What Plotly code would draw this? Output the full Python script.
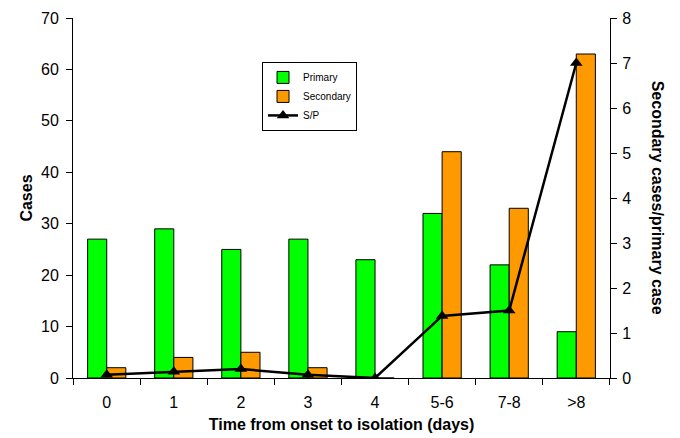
import plotly.graph_objects as go

categories = ["0", "1", "2", "3", "4", "5-6", "7-8", ">8"]
primary = [27, 29, 25, 27, 23, 32, 22, 9]
secondary = [2, 4, 5, 2, 0, 44, 33, 63]
sp_ratio = [0.07, 0.14, 0.2, 0.07, 0.0, 1.38, 1.5, 7.0]
left_ticks = [0, 10, 20, 30, 40, 50, 60, 70]
right_ticks = [0, 1, 2, 3, 4, 5, 6, 7, 8]

font = "Liberation Sans, Arial, sans-serif"

fig = go.Figure()
fig.add_trace(go.Bar(x=categories, y=primary, name="Primary",
                     marker=dict(color="#00ff00", line=dict(color="black", width=1))))
fig.add_trace(go.Bar(x=categories, y=secondary, name="Secondary",
                     marker=dict(color="#ff9900", line=dict(color="black", width=1))))
fig.add_trace(go.Scatter(x=categories, y=sp_ratio, name="S/P", yaxis="y2",
                         mode="lines+markers",
                         line=dict(color="black", width=2.5),
                         marker=dict(symbol="triangle-up", size=11, color="black")))

fig.update_layout(
    width=680, height=438,
    margin=dict(l=65, r=78, t=10, b=68, autoexpand=False),
    paper_bgcolor="white", plot_bgcolor="white",
    barmode="group", bargap=0.43, bargroupgap=0,
    font=dict(family=font, size=16, color="black"),
    showlegend=True,
    legend=dict(x=0.352, y=0.878, xanchor="left", yanchor="top",
                bordercolor="black", borderwidth=1, bgcolor="white",
                font=dict(size=10, family=font), tracegroupgap=0,
                itemwidth=30),
    xaxis=dict(type="category", showline=True, linecolor="black", linewidth=1,
               ticks="outside", ticklen=6, tickcolor="black", tickson="boundaries",
               ticklabelstandoff=10,
               showgrid=False, zeroline=False, automargin=False,
               title=dict(text="<b>Time from onset to isolation (days)</b>",
                          font=dict(size=16), standoff=8)),
    yaxis=dict(range=[0, 70], tickvals=left_ticks, showline=True, linecolor="black",
               linewidth=1, ticks="outside", ticklen=6, tickcolor="black",
               ticklabelstandoff=4,
               showgrid=False, zeroline=False, automargin=False,
               title=dict(text="<b>Cases</b>", font=dict(size=16), standoff=4)),
    yaxis2=dict(range=[0, 8], tickvals=right_ticks, overlaying="y", side="right",
                showline=True, linecolor="black", linewidth=1, ticks="outside",
                ticklen=6, tickcolor="black", showgrid=False, zeroline=False,
                ticklabelstandoff=2, automargin=False),
    annotations=[dict(text="<b>Secondary cases/primary case</b>", textangle=90,
                      xref="paper", yref="paper", x=1.09, y=0.5,
                      xanchor="center", yanchor="middle", showarrow=False,
                      font=dict(size=16, family=font))],
)

fig.write_html("out.html")
